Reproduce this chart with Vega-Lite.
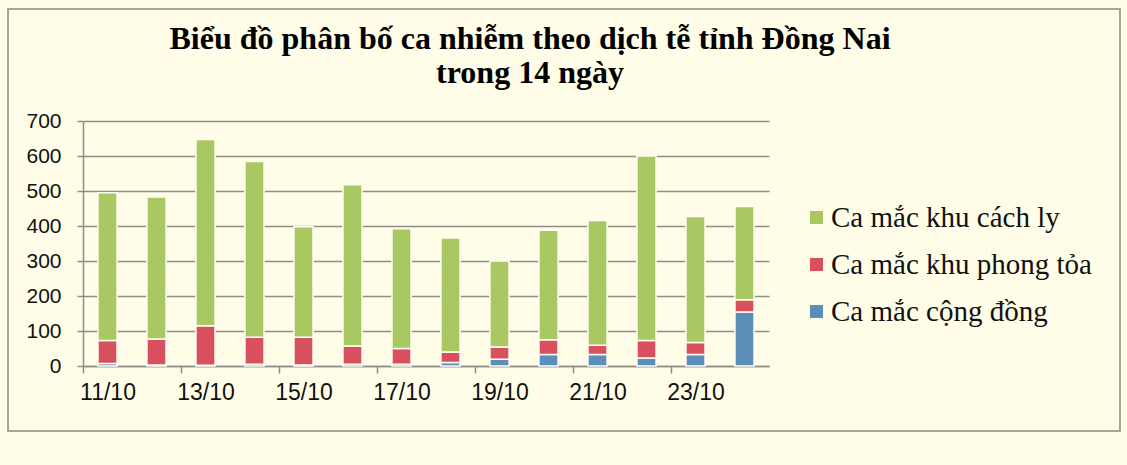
{
  "$schema": "https://vega.github.io/schema/vega-lite/v6.json",
  "width": 1112,
  "height": 422,
  "autosize": {"type": "none"},
  "padding": {"left": 8, "top": 9, "right": 7, "bottom": 34},
  "background": "#FFFDE8",
  "datasets": {
    "cases": [
      {"day": "11/10", "series": "Ca mắc cộng đồng", "cases": 7},
      {"day": "11/10", "series": "Ca mắc khu phong tỏa", "cases": 66},
      {"day": "11/10", "series": "Ca mắc khu cách ly", "cases": 422},
      {"day": "12/10", "series": "Ca mắc cộng đồng", "cases": 3},
      {"day": "12/10", "series": "Ca mắc khu phong tỏa", "cases": 74},
      {"day": "12/10", "series": "Ca mắc khu cách ly", "cases": 406},
      {"day": "13/10", "series": "Ca mắc cộng đồng", "cases": 2},
      {"day": "13/10", "series": "Ca mắc khu phong tỏa", "cases": 113},
      {"day": "13/10", "series": "Ca mắc khu cách ly", "cases": 532},
      {"day": "14/10", "series": "Ca mắc cộng đồng", "cases": 5},
      {"day": "14/10", "series": "Ca mắc khu phong tỏa", "cases": 77},
      {"day": "14/10", "series": "Ca mắc khu cách ly", "cases": 502},
      {"day": "15/10", "series": "Ca mắc cộng đồng", "cases": 3},
      {"day": "15/10", "series": "Ca mắc khu phong tỏa", "cases": 79},
      {"day": "15/10", "series": "Ca mắc khu cách ly", "cases": 316},
      {"day": "16/10", "series": "Ca mắc cộng đồng", "cases": 5},
      {"day": "16/10", "series": "Ca mắc khu phong tỏa", "cases": 52},
      {"day": "16/10", "series": "Ca mắc khu cách ly", "cases": 461},
      {"day": "17/10", "series": "Ca mắc cộng đồng", "cases": 5},
      {"day": "17/10", "series": "Ca mắc khu phong tỏa", "cases": 45},
      {"day": "17/10", "series": "Ca mắc khu cách ly", "cases": 342},
      {"day": "18/10", "series": "Ca mắc cộng đồng", "cases": 10},
      {"day": "18/10", "series": "Ca mắc khu phong tỏa", "cases": 30},
      {"day": "18/10", "series": "Ca mắc khu cách ly", "cases": 326},
      {"day": "19/10", "series": "Ca mắc cộng đồng", "cases": 19},
      {"day": "19/10", "series": "Ca mắc khu phong tỏa", "cases": 35},
      {"day": "19/10", "series": "Ca mắc khu cách ly", "cases": 246},
      {"day": "20/10", "series": "Ca mắc cộng đồng", "cases": 33},
      {"day": "20/10", "series": "Ca mắc khu phong tỏa", "cases": 42},
      {"day": "20/10", "series": "Ca mắc khu cách ly", "cases": 313},
      {"day": "21/10", "series": "Ca mắc cộng đồng", "cases": 33},
      {"day": "21/10", "series": "Ca mắc khu phong tỏa", "cases": 26},
      {"day": "21/10", "series": "Ca mắc khu cách ly", "cases": 357},
      {"day": "22/10", "series": "Ca mắc cộng đồng", "cases": 23},
      {"day": "22/10", "series": "Ca mắc khu phong tỏa", "cases": 50},
      {"day": "22/10", "series": "Ca mắc khu cách ly", "cases": 527},
      {"day": "23/10", "series": "Ca mắc cộng đồng", "cases": 33},
      {"day": "23/10", "series": "Ca mắc khu phong tỏa", "cases": 34},
      {"day": "23/10", "series": "Ca mắc khu cách ly", "cases": 360},
      {"day": "24/10", "series": "Ca mắc cộng đồng", "cases": 154},
      {"day": "24/10", "series": "Ca mắc khu phong tỏa", "cases": 35},
      {"day": "24/10", "series": "Ca mắc khu cách ly", "cases": 267}
    ],
    "series": [
      {"series": "Ca mắc cộng đồng", "stack": 1},
      {"series": "Ca mắc khu phong tỏa", "stack": 2},
      {"series": "Ca mắc khu cách ly", "stack": 3}
    ]
  },
  "data": {"name": "cases"},
  "transform": [
    {"lookup": "series", "from": {"data": {"name": "series"}, "key": "series", "fields": ["stack"]}}
  ],
  "title": {
    "text": ["Biểu đồ phân bố ca nhiễm theo dịch tễ tỉnh Đồng Nai", "trong 14 ngày"],
    "font": "Liberation Serif",
    "fontSize": 32,
    "fontWeight": "bold",
    "color": "#000000",
    "anchor": "middle",
    "lineHeight": 34,
    "offset": -81,
    "dx": -34
  },
  "mark": {"type": "bar", "stroke": "#FFFFF4", "strokeWidth": 1.5},
  "encoding": {
    "x": {
      "field": "day",
      "type": "nominal",
      "sort": null,
      "scale": {"range": [75, 761], "paddingInner": 0.61, "paddingOuter": 0.305},
      "axis": {
        "title": null,
        "values": ["11/10", "13/10", "15/10", "17/10", "19/10", "21/10", "23/10"],
        "tickOffset": -24.5,
        "labelOffset": 24.5,
        "offset": -65,
        "grid": false,
        "domainColor": "#8E8E86",
        "domainWidth": 1.5,
        "tickColor": "#8E8E86",
        "tickWidth": 1.5,
        "tickSize": 7,
        "labelFont": "Liberation Sans",
        "labelFontSize": 23,
        "labelColor": "#111111",
        "labelPadding": 8,
        "labelAngle": 0
      }
    },
    "y": {
      "field": "cases",
      "type": "quantitative",
      "stack": "zero",
      "scale": {"domain": [0, 700], "range": [357, 112], "nice": false},
      "axis": {
        "title": null,
        "values": [0, 100, 200, 300, 400, 500, 600, 700],
        "offset": -75,
        "grid": true,
        "gridColor": "#8E8E86",
        "gridWidth": 1.5,
        "domainColor": "#8E8E86",
        "domainWidth": 1.5,
        "tickColor": "#8E8E86",
        "tickWidth": 1.5,
        "tickSize": 6,
        "labelFont": "Liberation Sans",
        "labelFontSize": 21,
        "labelColor": "#111111",
        "labelPadding": 16
      }
    },
    "color": {
      "field": "series",
      "type": "nominal",
      "scale": {
        "domain": ["Ca mắc khu cách ly", "Ca mắc khu phong tỏa", "Ca mắc cộng đồng"],
        "range": ["#AAC862", "#D8505D", "#5B8EB9"]
      },
      "legend": {
        "title": null,
        "orient": "none",
        "legendX": 794,
        "legendY": 194,
        "padding": 0,
        "labelFont": "Liberation Serif",
        "labelFontSize": 29,
        "labelColor": "#111111",
        "labelLimit": 400,
        "labelOffset": 0,
        "symbolType": "square",
        "symbolSize": 169,
        "symbolStrokeWidth": 0,
        "rowPadding": 17
      }
    },
    "order": {"field": "stack", "type": "quantitative", "sort": "ascending"}
  },
  "config": {
    "view": {"stroke": "#A6A696", "strokeWidth": 2, "fill": "#FFFDE8"}
  }
}
